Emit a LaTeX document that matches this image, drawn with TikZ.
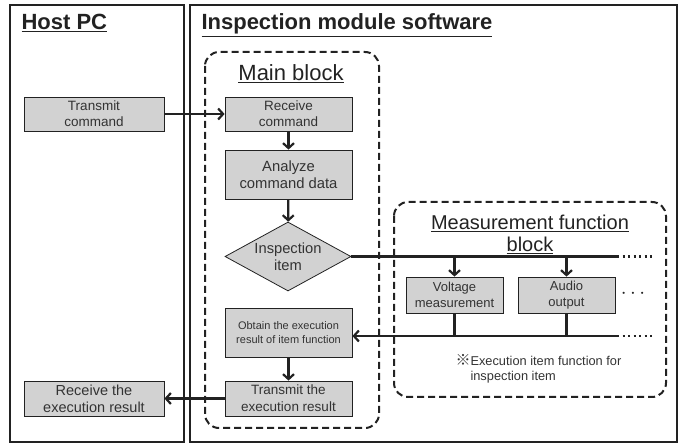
\documentclass[tikz,border=0pt]{standalone}
\usepackage{fontspec}
\setmainfont{Liberation Sans}
\newfontfamily\cjkfont{Noto Sans CJK JP}
\usepackage{xcolor}
\usetikzlibrary{positioning,shapes.geometric,arrows.meta}

\definecolor{inkgray}{HTML}{222222}
\definecolor{textgray}{HTML}{333333}
\definecolor{boxgray}{HTML}{D2D2D2}

\tikzset{
    frame/.style={draw=inkgray, line width=2.5pt},
    block/.style={draw=inkgray, line width=2pt, dash pattern=on 7pt off 4pt, rounded corners=14pt},
    procbox/.style={draw=inkgray, fill=boxgray, line width=0.8pt, align=center, text=textgray, inner sep=0pt},
    decision/.style={diamond, draw=inkgray, fill=boxgray, line width=0.8pt, inner sep=0pt, minimum width=126pt, minimum height=69pt},
    title/.style={text=inkgray, font=\fontsize{22}{24}\selectfont\bfseries},
    subtitle/.style={text=inkgray, align=center, font=\fontsize{20}{22}\selectfont},
    flow/.style={draw=inkgray, line width=2.2pt},
    busdots/.style={draw=inkgray, line width=2.2pt, dash pattern=on 2pt off 3.5pt},
}

\begin{document}
\begin{tikzpicture}[x=1pt, y=-1pt, >={Straight Barb[length=5pt, width=11pt]}]
            \useasboundingbox (0, 0) rectangle (683, 443);

            % outer frames
            \draw[frame] (10, 5) rectangle (184, 442);
            \draw[frame] (190, 5) rectangle (677, 442);
            \node (T1)[title, anchor=base west] at (18, 30) {\underline{Host PC}};
            \node (T2)[title, anchor=base west] at (198, 30) {\underline{Inspection module software}};

            % main block
            \draw[block] (205, 52) rectangle (379, 428);
            \node (T3)[subtitle, anchor=base, font=\fontsize{22}{24}\selectfont] at (291, 81) {\underline{Main block}};

            % measurement function block
            \draw[block] (394, 202) rectangle (666, 397);
            \node (T4)[subtitle] at (530, 234) {\underline{Measurement function}\\\underline{block}};

            \node (H1)[procbox, minimum width=140pt, minimum height=34pt, font=\fontsize{13.5}{16}\selectfont] at (94, 114) {Transmit\\command};
            \node (H2)[procbox, minimum width=140pt, minimum height=35pt, font=\fontsize{14.5}{17}\selectfont] at (94, 398.5) {Receive the\\execution result};

            \node (M1)[procbox, minimum width=127pt, minimum height=34pt, font=\fontsize{13.5}{16}\selectfont] at (288.5, 114) {Receive\\command};
            \node (M2)[procbox, minimum width=127pt, minimum height=49pt, font=\fontsize{14.8}{17}\selectfont] at (288.5, 174.5) {Analyze\\command data};
            \node (M3)[decision] at (288, 256.5) {};
            \node (M3t)[text=textgray, align=center, font=\fontsize{14.7}{17}\selectfont] at (M3) {Inspection\\item};
            \node (M4)[procbox, minimum width=127pt, minimum height=49pt, font=\fontsize{11}{14}\selectfont] at (288.5, 332.5) {Obtain the execution\\result of item function};
            \node (M5)[procbox, minimum width=127pt, minimum height=35pt, font=\fontsize{13.5}{17}\selectfont] at (288.5, 398.5) {Transmit the\\execution result};

            \node (F1)[procbox, minimum width=97pt, minimum height=36pt, font=\fontsize{13}{16}\selectfont] at (454.5, 295) {Voltage\\measurement};
            \node (F2)[procbox, minimum width=97pt, minimum height=36pt, font=\fontsize{13}{16}\selectfont] at (566.5, 295) {Audio\\output};
            \node (F3)[text=inkgray, font=\fontsize{20}{20}\selectfont] at (633, 294) {$\cdots$};
            \node (N1)[anchor=north west, align=left, text=textgray, font=\fontsize{12.8}{15}\selectfont] at (467, 351) {\llap{\cjkfont\fontsize{15}{15}\selectfont ※}Execution item function for\\inspection item};

            % bus ends
            \coordinate (B1) at (617, 256.5);
            \coordinate (B1e) at (652, 256.5);
            \coordinate (B2) at (617, 336);
            \coordinate (B2e) at (652, 336);

            \draw[flow, ->] (H1) -- (M1);
            \draw[flow, ->] (M1) -- (M2);
            \draw[flow, ->] (M2) -- (M3);
            \draw[flow] (M3.east) -- (B1);
            \draw[busdots] (B1) -- (B1e);
            \draw[flow, ->] (F1.north |- B1) -- (F1.north);
            \draw[flow, ->] (F2.north |- B1) -- (F2.north);
            \draw[flow] (F1.south) -- (F1.south |- B2);
            \draw[flow] (F2.south) -- (F2.south |- B2);
            \draw[flow, ->] (B2) -- (B2 -| M4.east);
            \draw[busdots] (B2) -- (B2e);
            \draw[flow, ->] (M4) -- (M5);
            \draw[flow, ->] (M5) -- (H2);
    \end{tikzpicture}
\end{document}
